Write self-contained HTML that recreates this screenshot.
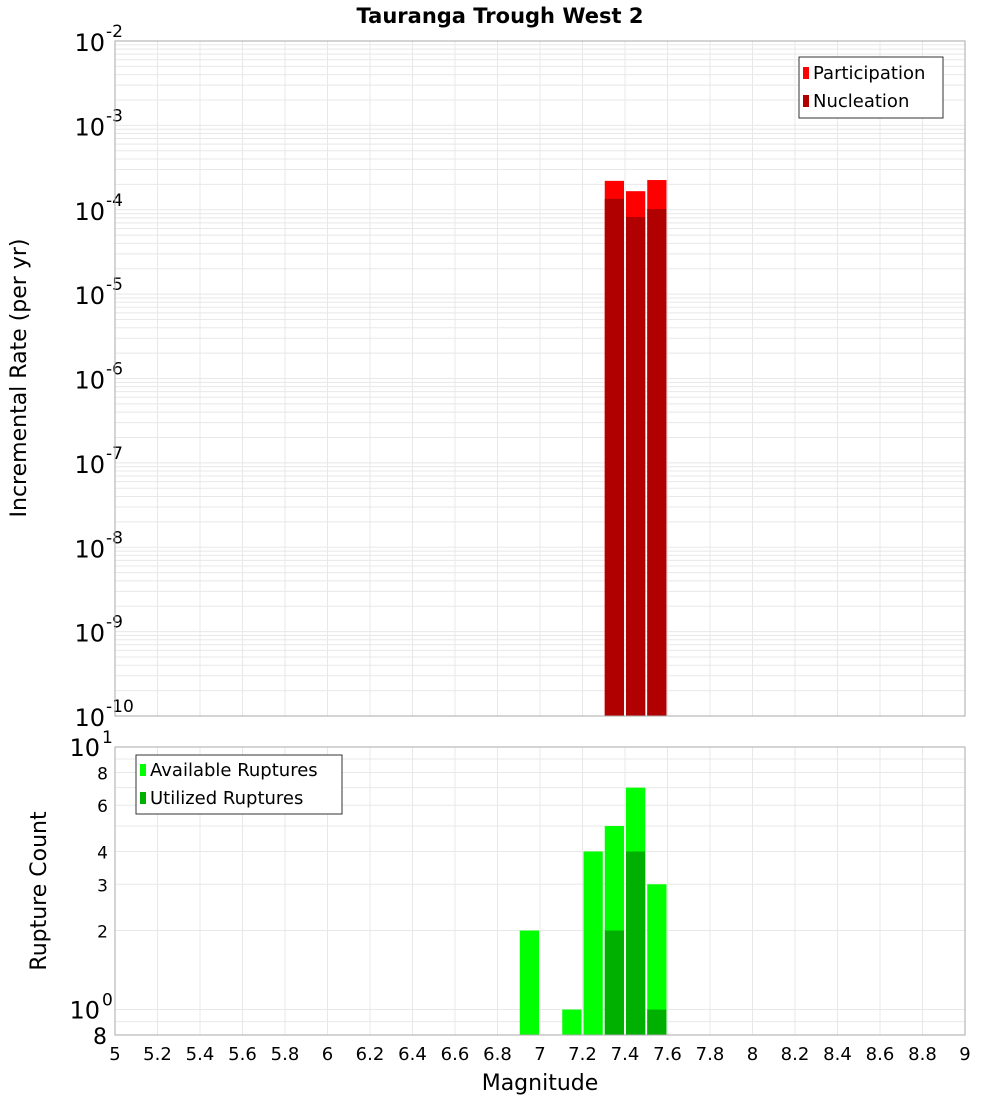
<!DOCTYPE html>
<html><head><meta charset="utf-8"><style>
body{margin:0;background:#fff;font-family:"Liberation Sans","DejaVu Sans",sans-serif}
</style></head><body>
<svg id="chart" width="1000" height="1100" xmlns="http://www.w3.org/2000/svg" font-family="DejaVu Sans, Liberation Sans, sans-serif">
<text x="500" y="23" text-anchor="middle" font-size="21" font-weight="bold">Tauranga Trough West 2</text>
<g id="topg"></g><g id="botg"></g>
<text transform="translate(26,378) rotate(-90)" text-anchor="middle" font-size="22">Incremental Rate (per yr)</text>
<text transform="translate(46,891) rotate(-90)" text-anchor="middle" font-size="22">Rupture Count</text>
<text x="540" y="1090" text-anchor="middle" font-size="22">Magnitude</text>
</svg>
<script>
const mags=[7.35,7.45,7.55];
const participation=[2.2e-4,1.66e-4,2.25e-4];
const nucleation=[1.35e-4,8.2e-5,1.02e-4];
const cntMags=[6.95,7.15,7.25,7.35,7.45,7.55];
const available=[2,1,4,5,7,3];
const utilMags=[7.35,7.45,7.55];
const utilized=[2,4,1];
const xTicks=[5,5.2,5.4,5.6,5.8,6,6.2,6.4,6.6,6.8,7,7.2,7.4,7.6,7.8,8,8.2,8.4,8.6,8.8,9];
const NS="http://www.w3.org/2000/svg";
const L=115,R=965,T1=41,B1=716,T2=747,B2=1035;
const xs=m=>L+(m-5)/4*(R-L);
const y1=v=>T1+(-2-Math.log10(v))/8*(B1-T1);
const y2=v=>B2-Math.log10(v/0.8)/Math.log10(10/0.8)*(B2-T2);
function mk(p,tag,a,txt){const e=document.createElementNS(NS,tag);for(const k in a)e.setAttribute(k,a[k]);if(txt!==undefined)e.textContent=txt;p.appendChild(e);return e;}
const gTop=document.getElementById('topg'),gBot=document.getElementById('botg');
for(let d=-10;d<-2;d++)for(let k=1;k<10;k++){const yy=y1(k*Math.pow(10,d));const g=mk(gTop,'line',{x1:L,x2:R,y1:yy,y2:yy,stroke:'#e8e8e8','stroke-width':1});

}
xTicks.forEach(t=>{const g=mk(gTop,'line',{x1:xs(t),x2:xs(t),y1:T1,y2:B1,stroke:'#e8e8e8'});


const h=mk(gBot,'line',{x1:xs(t),x2:xs(t),y1:T2,y2:B2,stroke:'#e8e8e8'});

});
for(let e=-10;e<=-2;e++){const yy=y1(Math.pow(10,e));const t=mk(gTop,'text',{x:105,y:yy+10,'text-anchor':'end','font-size':24});


t.textContent='10';mk(gTop,'text',{x:106,y:yy-4,'font-size':17},String(e));}
const bw=(xs(0.1)-xs(0))-2;
mags.forEach((m,i)=>{const b=mk(gTop,'rect',{x:xs(m)-bw/2,y:y1(participation[i]),width:bw,height:B1-y1(participation[i]),fill:'#ff0000'});


const n=mk(gTop,'rect',{x:xs(m)-bw/2,y:y1(nucleation[i]),width:bw,height:B1-y1(nucleation[i]),fill:'#b00000'});

});
const f1=mk(gTop,'rect',{x:L,y:T1,width:R-L,height:B1-T1,fill:'none',stroke:'#aaa'});


const lg=mk(gTop,'g',{});


mk(lg,'rect',{x:799,y:57,width:144,height:61,fill:'#fff',stroke:'#333'});
mk(lg,'rect',{x:803,y:67,width:6,height:12,fill:'#ff0000'});mk(lg,'text',{x:813,y:79,'font-size':18},'Participation');
mk(lg,'rect',{x:803,y:95,width:6,height:12,fill:'#b00000'});mk(lg,'text',{x:813,y:107,'font-size':18},'Nucleation');
[0.8,0.9,1,2,3,4,5,6,7,8,9,10].forEach(v=>{const g=mk(gBot,'line',{x1:L,x2:R,y1:y2(v),y2:y2(v),stroke:'#e8e8e8'});

});
[[2,'2'],[3,'3'],[4,'4'],[6,'6'],[8,'8']].forEach(([v,s])=>{const t=mk(gBot,'text',{x:108,y:y2(v)+7,'text-anchor':'end','font-size':17},s);

});
const t8=mk(gBot,'text',{x:107,y:1044,'text-anchor':'end','font-size':22},'8');


[[1,'0'],[10,'1']].forEach(([v,s])=>{const t=mk(gBot,'text',{x:100,y:y2(v)+9,'text-anchor':'end','font-size':24},'10');


mk(gBot,'text',{x:102,y:y2(v)-4,'font-size':17},s);});
cntMags.forEach((m,i)=>{const b=mk(gBot,'rect',{x:xs(m)-bw/2,y:y2(available[i]),width:bw,height:B2-y2(available[i]),fill:'#00ff00'});

});
utilMags.forEach((m,i)=>{const b=mk(gBot,'rect',{x:xs(m)-bw/2,y:y2(utilized[i]),width:bw,height:B2-y2(utilized[i]),fill:'#00b000'});

});
const f2=mk(gBot,'rect',{x:L,y:T2,width:R-L,height:B2-T2,fill:'none',stroke:'#aaa'});


xTicks.forEach(t=>{const l=mk(gBot,'text',{x:xs(t),y:1060,'text-anchor':'middle','font-size':18},String(t));

});
const lb=mk(gBot,'g',{});


mk(lb,'rect',{x:136,y:755,width:206,height:59,fill:'#fff',stroke:'#333'});
mk(lb,'rect',{x:140,y:764,width:6,height:12,fill:'#00ff00'});mk(lb,'text',{x:150,y:776,'font-size':18},'Available Ruptures');
mk(lb,'rect',{x:140,y:792,width:6,height:12,fill:'#00b000'});mk(lb,'text',{x:150,y:804,'font-size':18},'Utilized Ruptures');
</script>
</body></html>
